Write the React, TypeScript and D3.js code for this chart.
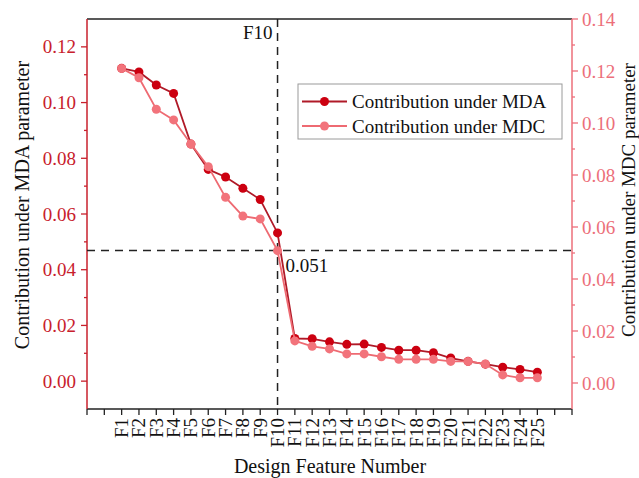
import React from "react";
import * as d3 from "d3";

const categories = ["F1","F2","F3","F4","F5","F6","F7","F8","F9","F10","F11","F12","F13","F14","F15","F16","F17","F18","F19","F20","F21","F22","F23","F24","F25"];
const mdaValues = [0.1123,0.1110,0.1063,0.1033,0.0851,0.0760,0.0733,0.0692,0.0652,0.0532,0.0153,0.0152,0.0141,0.0132,0.0133,0.0121,0.0111,0.0111,0.0102,0.0083,0.0071,0.0061,0.0050,0.0042,0.0032];
const mdcValues = [0.1210,0.1174,0.1053,0.1012,0.0919,0.0832,0.0714,0.0642,0.0631,0.0509,0.0162,0.0141,0.0131,0.0112,0.0112,0.0101,0.0091,0.0091,0.0091,0.0083,0.0083,0.0073,0.0031,0.0020,0.0020];
const leftTicks = [0, 0.02, 0.04, 0.06, 0.08, 0.10, 0.12];
const leftMinor = [0.01, 0.03, 0.05, 0.07, 0.09, 0.11];
const rightTicks = [0, 0.02, 0.04, 0.06, 0.08, 0.10, 0.12, 0.14];
const rightMinor = [0.01, 0.03, 0.05, 0.07, 0.09, 0.11, 0.13];
const thresholdValue = 0.051;
const thresholdLabel = "0.051";
const thresholdFeature = "F10";
const seriesNames = ["Contribution under MDA", "Contribution under MDC"];

const W = 639, H = 478;
const L = 87, R = 572, T = 19, B = 409;
const FONT = "'Liberation Serif', 'Times New Roman', serif";
const LEFT_COLOR = "#c8202c";
const RIGHT_COLOR = "#ec6f7a";
const MDA_COLOR = "#cc0010";
const MDA_LINE = "#b01a28";
const MDC_COLOR = "#f2737b";
const MDC_LINE = "#ee6a72";

export default function App() {
  const x = d3.scaleLinear().domain([-1, 27]).range([L, R]);
  const yL = d3.scaleLinear().domain([-0.01, 0.13]).range([B, T]);
  const yR = d3.scaleLinear().domain([-0.01, 0.14]).range([B, T]);
  const xTicks = d3.range(-1, 28);
  const fmt = d3.format(".2f");

  const mdaLine = d3.line<number>().x((_, i) => x(i + 1)).y((d) => yL(d));
  const mdcLine = d3.line<number>().x((_, i) => x(i + 1)).y((d) => yR(d));
  const xF = x(categories.indexOf(thresholdFeature) + 1);
  const yTh = yR(thresholdValue);

  return (
    <svg width={W} height={H} style={{ position: "absolute", left: 0, top: 0, background: "#fff" }} fontFamily={FONT}>
      <rect x={0} y={0} width={W} height={H} fill="#fff" />
      <line x1={L} x2={R} y1={T} y2={T} stroke="#222" strokeWidth={1.5} />
      <line x1={L} x2={R} y1={B} y2={B} stroke="#222" strokeWidth={1.5} />
      {xTicks.map((t) => (
        <line key={"xt" + t} x1={x(t)} x2={x(t)} y1={B} y2={B + 6} stroke="#222" strokeWidth={1.3} />
      ))}
      {categories.map((c, i) => (
        <text key={"xl" + c} transform={`translate(${x(i + 1)},${B + 9}) rotate(-90)`} textAnchor="end" dominantBaseline="central" fontSize={19} fill="#111">{c}</text>
      ))}
      <text x={330} y={473} textAnchor="middle" fontSize={20} fill="#111">Design Feature Number</text>

      <line x1={L} x2={L} y1={T} y2={B} stroke={LEFT_COLOR} strokeWidth={1.5} />
      {leftTicks.map((t) => (
        <g key={"lt" + t}>
          <line x1={L - 6} x2={L} y1={yL(t)} y2={yL(t)} stroke={LEFT_COLOR} strokeWidth={1.3} />
          <text x={L - 11} y={yL(t)} textAnchor="end" dominantBaseline="central" fontSize={19} fill={LEFT_COLOR}>{fmt(t)}</text>
        </g>
      ))}
      {leftMinor.map((t) => (
        <line key={"lm" + t} x1={L - 3} x2={L} y1={yL(t)} y2={yL(t)} stroke={LEFT_COLOR} strokeWidth={1.3} />
      ))}
      <text transform={`translate(22,205) rotate(-90)`} textAnchor="middle" dominantBaseline="central" fontSize={20} fill="#111">Contribution under MDA parameter</text>

      <line x1={R} x2={R} y1={T} y2={B} stroke={RIGHT_COLOR} strokeWidth={1.5} />
      {rightTicks.map((t) => (
        <g key={"rt" + t}>
          <line x1={R} x2={R + 6} y1={yR(t)} y2={yR(t)} stroke={RIGHT_COLOR} strokeWidth={1.3} />
          <text x={R + 10} y={yR(t)} textAnchor="start" dominantBaseline="central" fontSize={19} fill={RIGHT_COLOR}>{fmt(t)}</text>
        </g>
      ))}
      {rightMinor.map((t) => (
        <line key={"rm" + t} x1={R} x2={R + 3} y1={yR(t)} y2={yR(t)} stroke={RIGHT_COLOR} strokeWidth={1.3} />
      ))}
      <text transform={`translate(628,200) rotate(-90)`} textAnchor="middle" dominantBaseline="central" fontSize={19} fill="#111">Contribution under MDC parameter</text>

      <line x1={L} x2={R} y1={yTh} y2={yTh} stroke="#222" strokeWidth={1.5} strokeDasharray="8,6" />
      <line x1={xF} x2={xF} y1={T} y2={B} stroke="#222" strokeWidth={1.5} strokeDasharray="8,6" />
      <text x={xF - 5} y={39} textAnchor="end" fontSize={19} fill="#111">{thresholdFeature}</text>
      <text x={xF + 8} y={272} textAnchor="start" fontSize={19} fill="#111">{thresholdLabel}</text>

      <path d={mdaLine(mdaValues) || ""} fill="none" stroke={MDA_LINE} strokeWidth={1.8} />
      {mdaValues.map((v, i) => (
        <circle key={"a" + i} cx={x(i + 1)} cy={yL(v)} r={4.5} fill={MDA_COLOR} />
      ))}
      <path d={mdcLine(mdcValues) || ""} fill="none" stroke={MDC_LINE} strokeWidth={1.8} />
      {mdcValues.map((v, i) => (
        <circle key={"c" + i} cx={x(i + 1)} cy={yR(v)} r={4.5} fill={MDC_COLOR} />
      ))}

      <rect x={298} y={84} width={264} height={55} fill="#fff" stroke="#9a9a9a" strokeWidth={1} />
      {[0, 1].map((k) => {
        const yy = k === 0 ? 101.5 : 126;
        const lc = k === 0 ? MDA_LINE : MDC_LINE;
        const mc = k === 0 ? MDA_COLOR : MDC_COLOR;
        return (
          <g key={"lg" + k}>
            <line x1={302} x2={347} y1={yy} y2={yy} stroke={lc} strokeWidth={1.8} />
            <circle cx={324.5} cy={yy} r={4.5} fill={mc} />
            <text x={352} y={yy} dominantBaseline="central" fontSize={19} fill="#111">{seriesNames[k]}</text>
          </g>
        );
      })}
    </svg>
  );
}
